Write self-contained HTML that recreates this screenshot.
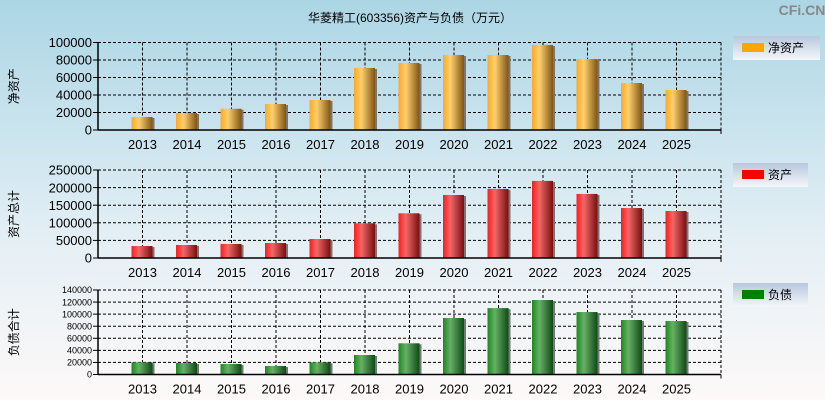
<!DOCTYPE html>
<html><head><meta charset="utf-8"><style>
body{margin:0;width:825px;height:400px;overflow:hidden}
svg{display:block;font-family:"Liberation Sans","Noto Sans CJK SC",sans-serif}
</style></head><body>
<svg id="chart" width="825" height="400">
<defs>
<linearGradient id="bg" x1="0" y1="0" x2="0" y2="1"><stop offset="0" stop-color="#acd6e5"/><stop offset="0.6" stop-color="#e4eff5"/><stop offset="1" stop-color="#fdf9f8"/></linearGradient>
<linearGradient id="gO" x1="0" x2="1"><stop offset="0" stop-color="#ffa820"/><stop offset="0.35" stop-color="#ffd070"/><stop offset="1" stop-color="#7f5515"/></linearGradient>
<linearGradient id="gR" x1="0" x2="1"><stop offset="0" stop-color="#ff1a1a"/><stop offset="0.35" stop-color="#f06868"/><stop offset="1" stop-color="#780f0f"/></linearGradient>
<linearGradient id="gG" x1="0" x2="1"><stop offset="0" stop-color="#1a8a1a"/><stop offset="0.35" stop-color="#68b068"/><stop offset="1" stop-color="#0f4a16"/></linearGradient>
<linearGradient id="lg" x1="0" y1="0" x2="0" y2="1"><stop offset="0" stop-color="#b8c8de"/><stop offset="1" stop-color="#f4f6fa"/></linearGradient>
</defs>
<rect width="825" height="400" fill="url(#bg)"/>
<text x="410" y="22" font-size="12" text-anchor="middle">华菱精工(603356)资产与负债（万元）</text>
<text x="802" y="15" font-size="14" font-weight="bold" fill="#888" text-anchor="middle">CFi.CN</text>
<g id="plots"></g>
</svg>
<script>
const categories=["2013","2014","2015","2016","2017","2018","2019","2020","2021","2022","2023","2024","2025"];
const netAssets=[14900,19400,24300,29700,34300,70900,76600,85700,85700,97100,81100,53700,45700];
const totalAssets=[34000,37000,40000,42600,54000,98500,127000,179000,196000,219000,182000,142000,133500];
const liabilities=[20200,19000,17400,14100,20200,32300,51700,93600,110000,123400,103500,90300,88600];
const ticks1=[0,20000,40000,60000,80000,100000];
const ticks2=[0,50000,100000,150000,200000,250000];
const ticks3=[0,20000,40000,60000,80000,100000,120000,140000];
const NS="http://www.w3.org/2000/svg";
const root=document.getElementById('plots');
function mk(tag,attrs,parent){const e=document.createElementNS(NS,tag);for(const k in attrs)e.setAttribute(k,attrs[k]);(parent||root).appendChild(e);return e;}
const X0=98,X1=721;
const step=(X1-X0)/(categories.length+1);
function xPos(i){return X0+step*(i+1);}
function panel(cfg){
  const g=mk('g',{});
  
  
  const max=cfg.ticks[cfg.ticks.length-1];
  const yPos=v=>cfg.bottom-(v/max)*(cfg.bottom-cfg.top);
  cfg.ticks.forEach(t=>{
    const y=yPos(t);
    if(t>0){const l=mk('line',{x1:X0,x2:X1,y1:y,y2:y,stroke:'#000','stroke-dasharray':'3,2','stroke-width':1},g);
      }
    mk('line',{x1:X0-5,x2:X0,y1:y,y2:y,stroke:'#000'},g);
    const tx=mk('text',{x:X0-6,y:y+cfg.fs*0.36,'font-size':cfg.fs,'text-anchor':'end'},g);
    tx.textContent=t;
    
    
  });
  categories.forEach((c,i)=>{
    const x=xPos(i);
    const l=mk('line',{x1:x,x2:x,y1:cfg.top,y2:cfg.bottom,stroke:'#000','stroke-dasharray':'3,2'},g);
    
    const tx=mk('text',{x:x,y:cfg.bottom+19,'font-size':13,'text-anchor':'middle'},g);
    tx.textContent=c;
    
    
  });
  mk('line',{x1:X1,x2:X1,y1:cfg.top,y2:cfg.bottom,stroke:'#000','stroke-dasharray':'3,2'},g);
  mk('line',{x1:X0,x2:X1,y1:cfg.top,y2:cfg.top,stroke:'#000','stroke-dasharray':'3,2'},g);
  cfg.values.forEach((v,i)=>{
    const x=xPos(i),y=yPos(v);
    mk('rect',{x:x-9,y:y+1,width:21,height:cfg.bottom-y-1,fill:'#777'},g);
    const b=mk('rect',{x:x-11,y:y,width:21,height:cfg.bottom-y,fill:cfg.fill},g);
    
    
  });
  mk('line',{x1:X0,x2:X0,y1:cfg.top,y2:cfg.bottom,stroke:'#000','stroke-width':1.5},g);
  mk('line',{x1:X0,x2:X1,y1:cfg.bottom,y2:cfg.bottom,stroke:'#000','stroke-width':1.5},g);
  mk('line',{x1:X1,x2:X1,y1:cfg.bottom,y2:cfg.bottom+4,stroke:'#000'},g);
  const yl=mk('text',{x:0,y:0,'font-size':12,'text-anchor':'middle',transform:'translate(18,'+((cfg.top+cfg.bottom)/2)+') rotate(-90)'},g);
  yl.textContent=cfg.ylabel;
  
  
  const lg=mk('g',{},g);
  
  
  mk('rect',{x:733,y:cfg.legY,width:cfg.legW,height:24,fill:'url(#lg)'},lg);
  mk('rect',{x:742,y:cfg.legY+7,width:22,height:9,fill:cfg.sw},lg);
  const lt=mk('text',{x:768,y:cfg.legY+16,'font-size':12},lg);
  lt.textContent=cfg.legend;
}
panel({name:'net-assets',values:netAssets,ticks:ticks1,top:42.5,bottom:130,fs:13,fill:'url(#gO)',ylabel:'净资产',legend:'净资产',legY:36,legW:87,sw:'#ffa500'});
panel({name:'total-assets',values:totalAssets,ticks:ticks2,top:170,bottom:258,fs:13,fill:'url(#gR)',ylabel:'资产总计',legend:'资产',legY:163,legW:75,sw:'#ff0000'});
panel({name:'liabilities',values:liabilities,ticks:ticks3,top:290,bottom:374.5,fs:9,fill:'url(#gG)',ylabel:'负债合计',legend:'负债',legY:283,legW:75,sw:'#008000'});
</script>
</body></html>
